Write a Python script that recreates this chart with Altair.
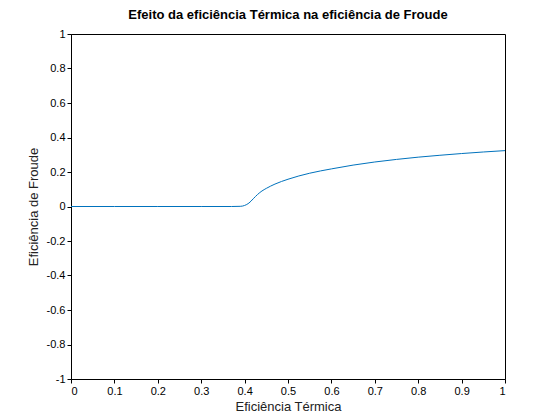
import altair as alt
import pandas as pd

# valores
eta_t = [0.0, 0.10, 0.20, 0.30, 0.37, 0.39, 0.40, 0.41, 0.42, 0.43, 0.44, 0.45, 0.47,
         0.50, 0.55, 0.60, 0.65, 0.70, 0.75, 0.80, 0.85, 0.90, 0.95, 1.0]
eta_f = [0.0, 0.0, 0.0, 0.0, 0.0, 0.001, 0.006, 0.02, 0.045, 0.07, 0.09, 0.105, 0.13,
         0.158, 0.193, 0.218, 0.24, 0.258, 0.273, 0.286, 0.297, 0.307, 0.316, 0.324]

df = pd.DataFrame({"x": eta_t, "y": eta_f})

font = "Liberation Sans"
chart = alt.Chart(df).mark_line(color="#0072BD", strokeWidth=1, interpolate="monotone").encode(
    x=alt.X("x:Q", title="Eficiência Térmica", scale=alt.Scale(domain=[0, 1], nice=False),
            axis=alt.Axis(values=[i / 10 for i in range(11)], format="~g", grid=False,
                          domainColor="black", tickColor="black", tickSize=4,
                          labelColor="black", labelFontSize=11, titleFontSize=13,
                          titleFontWeight="normal", titleColor="#222", labelFont=font, titleFont=font,
                          titlePadding=4)),
    y=alt.Y("y:Q", title="Eficiência de Froude", scale=alt.Scale(domain=[-1, 1], nice=False),
            axis=alt.Axis(values=[round(i / 5 - 1, 1) for i in range(11)], grid=False,
                          labelExpr="replace(format(datum.value, '~g'), '−', '-')",
                          domainColor="black", tickColor="black", tickSize=4,
                          labelColor="black", labelFontSize=11, titleFontSize=13,
                          titleFontWeight="normal", titleColor="#222", labelFont=font, titleFont=font,
                          titlePadding=6)),
).properties(
    width=434, height=345,
    title=alt.TitleParams("Efeito da eficiência Térmica na eficiência de Froude",
                          font=font, fontSize=13, fontWeight="bold", color="black", offset=6),
    autosize="none",
    padding={"left": 63, "top": 26, "right": 47, "bottom": 33},
).configure_view(stroke="black", strokeWidth=1)

chart.save("out.html", embed_options={"renderer": "svg", "actions": False})
